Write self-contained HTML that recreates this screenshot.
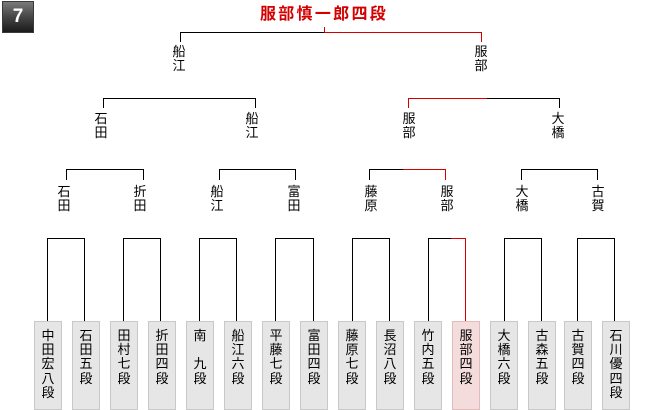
<!DOCTYPE html>
<html><head><meta charset="utf-8">
<style>
html,body{margin:0;padding:0;background:#fff;}
body{width:660px;height:410px;position:relative;overflow:hidden;font-family:"Liberation Sans","Noto Sans CJK JP",sans-serif;}
.badge{position:absolute;left:2px;top:1px;width:30px;height:30px;border:1px solid #3a3a3a;background:linear-gradient(#7a7a7a,#4a4a4a 45%,#1a1a1a);color:#fff;font:bold 19px/30px "Liberation Sans",sans-serif;text-align:center;}
.title{position:absolute;left:224px;width:200px;top:6px;text-align:center;color:#d40000;font-weight:bold;font-size:16px;line-height:17px;letter-spacing:2.3px;font-family:"Liberation Sans","Noto Sans CJK JP",sans-serif;}
.lb{position:absolute;width:30px;text-align:center;font-size:13px;line-height:14px;color:#000;}
.bx{position:absolute;top:321px;width:26px;height:87px;border:1px solid #c9c9c9;background:#e6e6e6;}
.bx div{position:absolute;left:-2px;width:30px;top:7px;text-align:center;font-size:13px;line-height:14.2px;color:#000;}
.bx.w{background:#f4dcdc;border-color:#e2bcbc;}
svg{position:absolute;left:0;top:0;}
</style></head><body>
<div class="badge">7</div>
<div class="title">服部慎一郎四段</div>

<svg width="660" height="410" shape-rendering="crispEdges">
<g stroke="#000" stroke-width="1" fill="none">
<!-- level1 -->
<path d="M180.5 42V32.5H324"/>
<!-- level2 -->
<path d="M103.5 108V98.5H255.5V108"/>
<path d="M487 98.5H559.5V108"/>
<!-- level3 -->
<path d="M66.5 180V169.5H143.5V180"/>
<path d="M219.5 180V169.5H295.5V180"/>
<path d="M369.5 180V169.5H403"/>
<path d="M521.5 180V169.5H597.5V180"/>
<!-- bottom -->
<path d="M47.5 321V238.5H84.5V321"/>
<path d="M123.5 321V238.5H160.5V321"/>
<path d="M199.5 321V238.5H236.5V321"/>
<path d="M275.5 321V238.5H313.5V321"/>
<path d="M352.5 321V238.5H389.5V321"/>
<path d="M428.5 321V238.5H451"/>
<path d="M504.5 321V238.5H541.5V321"/>
<path d="M577.5 321V238.5H614.5V321"/>
</g>
<g stroke="#d40000" stroke-width="1" fill="none">
<path d="M324.5 27V32.5H481.5V42"/>
<path d="M408.5 108V98.5H487"/>
<path d="M403 169.5H445.5V180"/>
<path d="M451 238.5H465.5V321"/>
</g>
</svg>

<!-- level1 labels -->
<div class="lb" style="left:164px;top:45px">船<br>江</div>
<div class="lb" style="left:466px;top:45px">服<br>部</div>
<!-- level2 labels -->
<div class="lb" style="left:86px;top:112px">石<br>田</div>
<div class="lb" style="left:237px;top:112px">船<br>江</div>
<div class="lb" style="left:394px;top:112px">服<br>部</div>
<div class="lb" style="left:543px;top:112px">大<br>橋</div>
<!-- level3 labels -->
<div class="lb" style="left:49px;top:185px">石<br>田</div>
<div class="lb" style="left:125px;top:185px">折<br>田</div>
<div class="lb" style="left:202px;top:185px">船<br>江</div>
<div class="lb" style="left:279px;top:185px">富<br>田</div>
<div class="lb" style="left:356px;top:185px">藤<br>原</div>
<div class="lb" style="left:432px;top:185px">服<br>部</div>
<div class="lb" style="left:507px;top:185px">大<br>橋</div>
<div class="lb" style="left:583px;top:185px">古<br>賀</div>

<!-- boxes -->
<div class="bx" style="left:34px"><div>中<br>田<br>宏<br>八<br>段</div></div>
<div class="bx" style="left:72px"><div>石<br>田<br>五<br>段</div></div>
<div class="bx" style="left:110px"><div>田<br>村<br>七<br>段</div></div>
<div class="bx" style="left:148px"><div>折<br>田<br>四<br>段</div></div>
<div class="bx" style="left:186px"><div>南<br>&nbsp;<br>九<br>段</div></div>
<div class="bx" style="left:224px"><div>船<br>江<br>六<br>段</div></div>
<div class="bx" style="left:262px"><div>平<br>藤<br>七<br>段</div></div>
<div class="bx" style="left:300px"><div>富<br>田<br>四<br>段</div></div>
<div class="bx" style="left:338px"><div>藤<br>原<br>七<br>段</div></div>
<div class="bx" style="left:376px"><div>長<br>沼<br>八<br>段</div></div>
<div class="bx" style="left:414px"><div>竹<br>内<br>五<br>段</div></div>
<div class="bx w" style="left:452px"><div>服<br>部<br>四<br>段</div></div>
<div class="bx" style="left:490px"><div>大<br>橋<br>六<br>段</div></div>
<div class="bx" style="left:528px"><div>古<br>森<br>五<br>段</div></div>
<div class="bx" style="left:564px"><div>古<br>賀<br>四<br>段</div></div>
<div class="bx" style="left:602px"><div>石<br>川<br>優<br>四<br>段</div></div>
</body></html>
